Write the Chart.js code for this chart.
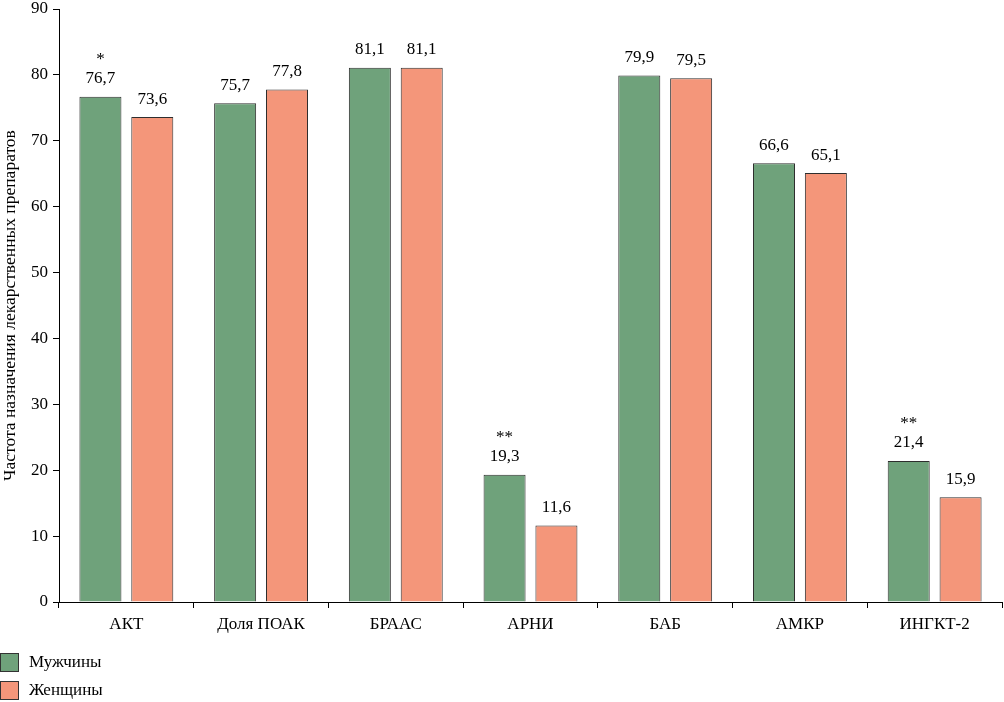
<!DOCTYPE html>
<html><head><meta charset="utf-8">
<script src="https://cdn.jsdelivr.net/npm/chart.js@4/dist/chart.umd.min.js"></script>
<style>
html,body{margin:0;padding:0;background:#fff;}
#wrap{position:relative;width:1004px;height:702px;}
canvas{position:absolute;left:0;top:0;}
.leg{position:absolute;left:0;font-family:"Liberation Serif","Times New Roman",serif;font-size:17px;color:#000;display:flex;align-items:center;}
.leg span.box{display:inline-block;width:17px;height:17px;border:1px solid #333;margin-right:10px;}
</style></head>
<body><div id="wrap"><canvas id="c" width="1004" height="702"></canvas>
<div class="leg" style="top:652px"><span class="box" style="background:#6fa27b"></span>Мужчины</div>
<div class="leg" style="top:680px"><span class="box" style="background:#f4967a"></span>Женщины</div>
</div>
<script>
const categories = ["АКТ", "Доля ПОАК", "БРААС", "АРНИ", "БАБ", "АМКР", "ИНГКТ-2"];
const menValues = [76.7, 75.7, 81.1, 19.3, 79.9, 66.6, 21.4];
const womenValues = [73.6, 77.8, 81.1, 11.6, 79.5, 65.1, 15.9];
const menMarks = ["*", "", "", "**", "", "", "**"];
const womenMarks = ["", "", "", "", "", "", ""];
const yTicks = [0, 10, 20, 30, 40, 50, 60, 70, 80, 90];

const FONT = "'Liberation Serif', 'Times New Roman', serif";

const labelPlugin = {
  id: 'barLabels',
  afterDatasetsDraw(chart) {
    const ctx = chart.ctx;
    ctx.save();
    ctx.fillStyle = '#000';
    ctx.textAlign = 'center';
    ctx.textBaseline = 'middle';
    chart.data.datasets.forEach((ds, di) => {
      const meta = chart.getDatasetMeta(di);
      meta.data.forEach((bar, i) => {
        const v = ds.data[i];
        ctx.font = '17px ' + FONT;
        ctx.fillText(v.toFixed(1).replace('.', ','), bar.x, bar.y - 18);
        const m = ds.marks[i];
        if (m) {
          ctx.font = '17px ' + FONT;
          ctx.fillText(m, bar.x, bar.y - 37);
        }
      });
    });
    ctx.restore();
  }
};

new Chart(document.getElementById('c'), {
  type: 'bar',
  data: {
    labels: categories,
    datasets: [
      { label: 'Мужчины', data: menValues, marks: menMarks, backgroundColor: '#6fa27b', borderColor: '#2e2e2e', borderWidth: 1, barPercentage: 0.81, categoryPercentage: 0.77 },
      { label: 'Женщины', data: womenValues, marks: womenMarks, backgroundColor: '#f4967a', borderColor: '#2e2e2e', borderWidth: 1, barPercentage: 0.81, categoryPercentage: 0.77 }
    ]
  },
  options: {
    responsive: false,
    animation: false,
    layout: { padding: { top: 9, right: 2, left: 0, bottom: 0 } },
    plugins: { legend: { display: false }, tooltip: { enabled: false } },
    scales: {
      x: {
        grid: { display: true, drawOnChartArea: false, drawTicks: true, tickLength: 6, color: '#000', offset: true },
        border: { display: true, color: '#000', width: 1 },
        ticks: { color: '#000', font: { family: FONT, size: 17 }, padding: 6, maxRotation: 0 },
        afterFit(s) { s.height = 100; s.paddingLeft = 0; s.paddingRight = 0; }
      },
      y: {
        min: 0, max: 90,
        afterBuildTicks(s) { s.ticks = yTicks.map(v => ({ value: v })); },
        grid: { display: true, drawOnChartArea: false, drawTicks: true, tickLength: 6, color: '#000' },
        border: { display: true, color: '#000', width: 1 },
        ticks: { color: '#000', font: { family: FONT, size: 17 }, padding: 5 },
        title: { display: true, text: 'Частота назначения лекарственных препаратов', color: '#000', font: { family: FONT, size: 17.5 }, padding: 0 },
        afterFit(s) { s.width = 59; s.paddingTop = 0; s.paddingBottom = 0; }
      }
    }
  },
  plugins: [labelPlugin]
});
</script>
</body></html>
